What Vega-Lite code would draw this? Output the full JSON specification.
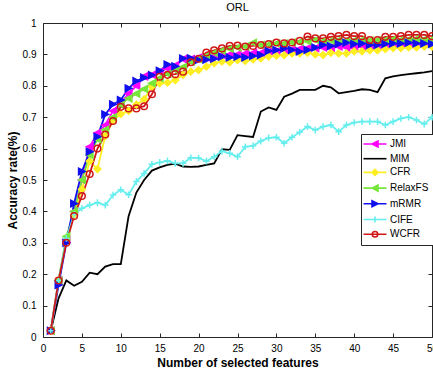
{
"$schema":"https://vega.github.io/schema/vega-lite/v6.json",
"width":389,"height":314,
"autosize":{"type":"none"},
"padding":{"left":43,"top":23,"right":1,"bottom":35},
"title":{"text":"ORL","fontSize":11,"fontWeight":"normal","font":"Liberation Sans","color":"#000","offset":5},
"config":{"view":{"stroke":"#262626","strokeWidth":1},"font":"Liberation Sans"},
"data":{"values":[
{"m":"JMI","x":1,"y":0.02},{"m":"JMI","x":2,"y":0.18},{"m":"JMI","x":3,"y":0.31},{"m":"JMI","x":4,"y":0.40},{"m":"JMI","x":5,"y":0.50},{"m":"JMI","x":6,"y":0.606},{"m":"JMI","x":7,"y":0.65},{"m":"JMI","x":8,"y":0.675},{"m":"JMI","x":9,"y":0.72},{"m":"JMI","x":10,"y":0.745},
{"m":"JMI","x":11,"y":0.775},{"m":"JMI","x":12,"y":0.80},{"m":"JMI","x":13,"y":0.83},{"m":"JMI","x":14,"y":0.835},{"m":"JMI","x":15,"y":0.845},{"m":"JMI","x":16,"y":0.855},{"m":"JMI","x":17,"y":0.865},{"m":"JMI","x":18,"y":0.885},{"m":"JMI","x":19,"y":0.885},{"m":"JMI","x":20,"y":0.89},
{"m":"JMI","x":21,"y":0.89},{"m":"JMI","x":22,"y":0.895},{"m":"JMI","x":23,"y":0.898},{"m":"JMI","x":24,"y":0.90},{"m":"JMI","x":25,"y":0.90},{"m":"JMI","x":26,"y":0.903},{"m":"JMI","x":27,"y":0.905},{"m":"JMI","x":28,"y":0.905},{"m":"JMI","x":29,"y":0.91},{"m":"JMI","x":30,"y":0.91},
{"m":"JMI","x":31,"y":0.915},{"m":"JMI","x":32,"y":0.915},{"m":"JMI","x":33,"y":0.918},{"m":"JMI","x":34,"y":0.92},{"m":"JMI","x":35,"y":0.92},{"m":"JMI","x":36,"y":0.922},{"m":"JMI","x":37,"y":0.92},{"m":"JMI","x":38,"y":0.925},{"m":"JMI","x":39,"y":0.922},{"m":"JMI","x":40,"y":0.92},
{"m":"JMI","x":41,"y":0.925},{"m":"JMI","x":42,"y":0.928},{"m":"JMI","x":43,"y":0.93},{"m":"JMI","x":44,"y":0.932},{"m":"JMI","x":45,"y":0.935},{"m":"JMI","x":46,"y":0.935},{"m":"JMI","x":47,"y":0.938},{"m":"JMI","x":48,"y":0.94},{"m":"JMI","x":49,"y":0.94},{"m":"JMI","x":50,"y":0.94},
{"m":"MIM","x":1,"y":0.02},{"m":"MIM","x":2,"y":0.123},{"m":"MIM","x":3,"y":0.18},{"m":"MIM","x":4,"y":0.163},{"m":"MIM","x":5,"y":0.176},{"m":"MIM","x":6,"y":0.205},{"m":"MIM","x":7,"y":0.20},{"m":"MIM","x":8,"y":0.224},{"m":"MIM","x":9,"y":0.232},{"m":"MIM","x":10,"y":0.232},
{"m":"MIM","x":11,"y":0.385},{"m":"MIM","x":12,"y":0.46},{"m":"MIM","x":13,"y":0.50},{"m":"MIM","x":14,"y":0.53},{"m":"MIM","x":15,"y":0.54},{"m":"MIM","x":16,"y":0.548},{"m":"MIM","x":17,"y":0.552},{"m":"MIM","x":18,"y":0.543},{"m":"MIM","x":19,"y":0.542},{"m":"MIM","x":20,"y":0.543},
{"m":"MIM","x":21,"y":0.548},{"m":"MIM","x":22,"y":0.553},{"m":"MIM","x":23,"y":0.598},{"m":"MIM","x":24,"y":0.596},{"m":"MIM","x":25,"y":0.643},{"m":"MIM","x":26,"y":0.64},{"m":"MIM","x":27,"y":0.637},{"m":"MIM","x":28,"y":0.718},{"m":"MIM","x":29,"y":0.731},{"m":"MIM","x":30,"y":0.723},
{"m":"MIM","x":31,"y":0.765},{"m":"MIM","x":32,"y":0.775},{"m":"MIM","x":33,"y":0.787},{"m":"MIM","x":34,"y":0.787},{"m":"MIM","x":35,"y":0.787},{"m":"MIM","x":36,"y":0.80},{"m":"MIM","x":37,"y":0.795},{"m":"MIM","x":38,"y":0.776},{"m":"MIM","x":39,"y":0.78},{"m":"MIM","x":40,"y":0.784},
{"m":"MIM","x":41,"y":0.789},{"m":"MIM","x":42,"y":0.787},{"m":"MIM","x":43,"y":0.78},{"m":"MIM","x":44,"y":0.824},{"m":"MIM","x":45,"y":0.83},{"m":"MIM","x":46,"y":0.834},{"m":"MIM","x":47,"y":0.837},{"m":"MIM","x":48,"y":0.84},{"m":"MIM","x":49,"y":0.843},{"m":"MIM","x":50,"y":0.847},
{"m":"CFR","x":1,"y":0.02},{"m":"CFR","x":2,"y":0.18},{"m":"CFR","x":3,"y":0.31},{"m":"CFR","x":4,"y":0.39},{"m":"CFR","x":5,"y":0.47},{"m":"CFR","x":6,"y":0.56},{"m":"CFR","x":7,"y":0.535},{"m":"CFR","x":8,"y":0.64},{"m":"CFR","x":9,"y":0.69},{"m":"CFR","x":10,"y":0.71},
{"m":"CFR","x":11,"y":0.72},{"m":"CFR","x":12,"y":0.74},{"m":"CFR","x":13,"y":0.757},{"m":"CFR","x":14,"y":0.797},{"m":"CFR","x":15,"y":0.808},{"m":"CFR","x":16,"y":0.81},{"m":"CFR","x":17,"y":0.818},{"m":"CFR","x":18,"y":0.835},{"m":"CFR","x":19,"y":0.845},{"m":"CFR","x":20,"y":0.85},
{"m":"CFR","x":21,"y":0.861},{"m":"CFR","x":22,"y":0.872},{"m":"CFR","x":23,"y":0.877},{"m":"CFR","x":24,"y":0.875},{"m":"CFR","x":25,"y":0.882},{"m":"CFR","x":26,"y":0.879},{"m":"CFR","x":27,"y":0.884},{"m":"CFR","x":28,"y":0.887},{"m":"CFR","x":29,"y":0.893},{"m":"CFR","x":30,"y":0.896},
{"m":"CFR","x":31,"y":0.898},{"m":"CFR","x":32,"y":0.903},{"m":"CFR","x":33,"y":0.903},{"m":"CFR","x":34,"y":0.905},{"m":"CFR","x":35,"y":0.90},{"m":"CFR","x":36,"y":0.898},{"m":"CFR","x":37,"y":0.905},{"m":"CFR","x":38,"y":0.903},{"m":"CFR","x":39,"y":0.903},{"m":"CFR","x":40,"y":0.91},
{"m":"CFR","x":41,"y":0.91},{"m":"CFR","x":42,"y":0.913},{"m":"CFR","x":43,"y":0.913},{"m":"CFR","x":44,"y":0.917},{"m":"CFR","x":45,"y":0.92},{"m":"CFR","x":46,"y":0.92},{"m":"CFR","x":47,"y":0.922},{"m":"CFR","x":48,"y":0.922},{"m":"CFR","x":49,"y":0.925},{"m":"CFR","x":50,"y":0.925},
{"m":"RelaxFS","x":1,"y":0.02},{"m":"RelaxFS","x":2,"y":0.18},{"m":"RelaxFS","x":3,"y":0.32},{"m":"RelaxFS","x":4,"y":0.40},{"m":"RelaxFS","x":5,"y":0.50},{"m":"RelaxFS","x":6,"y":0.58},{"m":"RelaxFS","x":7,"y":0.63},{"m":"RelaxFS","x":8,"y":0.66},{"m":"RelaxFS","x":9,"y":0.70},{"m":"RelaxFS","x":10,"y":0.74},
{"m":"RelaxFS","x":11,"y":0.76},{"m":"RelaxFS","x":12,"y":0.775},{"m":"RelaxFS","x":13,"y":0.79},{"m":"RelaxFS","x":14,"y":0.808},{"m":"RelaxFS","x":15,"y":0.824},{"m":"RelaxFS","x":16,"y":0.838},{"m":"RelaxFS","x":17,"y":0.85},{"m":"RelaxFS","x":18,"y":0.86},{"m":"RelaxFS","x":19,"y":0.877},{"m":"RelaxFS","x":20,"y":0.885},
{"m":"RelaxFS","x":21,"y":0.895},{"m":"RelaxFS","x":22,"y":0.905},{"m":"RelaxFS","x":23,"y":0.912},{"m":"RelaxFS","x":24,"y":0.918},{"m":"RelaxFS","x":25,"y":0.922},{"m":"RelaxFS","x":26,"y":0.925},{"m":"RelaxFS","x":27,"y":0.937},{"m":"RelaxFS","x":28,"y":0.93},{"m":"RelaxFS","x":29,"y":0.932},{"m":"RelaxFS","x":30,"y":0.935},
{"m":"RelaxFS","x":31,"y":0.935},{"m":"RelaxFS","x":32,"y":0.938},{"m":"RelaxFS","x":33,"y":0.94},{"m":"RelaxFS","x":34,"y":0.942},{"m":"RelaxFS","x":35,"y":0.946},{"m":"RelaxFS","x":36,"y":0.942},{"m":"RelaxFS","x":37,"y":0.944},{"m":"RelaxFS","x":38,"y":0.946},{"m":"RelaxFS","x":39,"y":0.944},{"m":"RelaxFS","x":40,"y":0.945},
{"m":"RelaxFS","x":41,"y":0.946},{"m":"RelaxFS","x":42,"y":0.944},{"m":"RelaxFS","x":43,"y":0.945},{"m":"RelaxFS","x":44,"y":0.946},{"m":"RelaxFS","x":45,"y":0.948},{"m":"RelaxFS","x":46,"y":0.946},{"m":"RelaxFS","x":47,"y":0.948},{"m":"RelaxFS","x":48,"y":0.95},{"m":"RelaxFS","x":49,"y":0.948},{"m":"RelaxFS","x":50,"y":0.948},
{"m":"mRMR","x":1,"y":0.02},{"m":"mRMR","x":2,"y":0.166},{"m":"mRMR","x":3,"y":0.30},{"m":"mRMR","x":4,"y":0.425},{"m":"mRMR","x":5,"y":0.527},{"m":"mRMR","x":6,"y":0.59},{"m":"mRMR","x":7,"y":0.638},{"m":"mRMR","x":8,"y":0.709},{"m":"mRMR","x":9,"y":0.741},{"m":"mRMR","x":10,"y":0.755},
{"m":"mRMR","x":11,"y":0.792},{"m":"mRMR","x":12,"y":0.815},{"m":"mRMR","x":13,"y":0.826},{"m":"mRMR","x":14,"y":0.834},{"m":"mRMR","x":15,"y":0.848},{"m":"mRMR","x":16,"y":0.868},{"m":"mRMR","x":17,"y":0.862},{"m":"mRMR","x":18,"y":0.887},{"m":"mRMR","x":19,"y":0.888},{"m":"mRMR","x":20,"y":0.882},
{"m":"mRMR","x":21,"y":0.883},{"m":"mRMR","x":22,"y":0.886},{"m":"mRMR","x":23,"y":0.893},{"m":"mRMR","x":24,"y":0.89},{"m":"mRMR","x":25,"y":0.893},{"m":"mRMR","x":26,"y":0.89},{"m":"mRMR","x":27,"y":0.895},{"m":"mRMR","x":28,"y":0.898},{"m":"mRMR","x":29,"y":0.911},{"m":"mRMR","x":30,"y":0.914},
{"m":"mRMR","x":31,"y":0.919},{"m":"mRMR","x":32,"y":0.914},{"m":"mRMR","x":33,"y":0.909},{"m":"mRMR","x":34,"y":0.914},{"m":"mRMR","x":35,"y":0.922},{"m":"mRMR","x":36,"y":0.93},{"m":"mRMR","x":37,"y":0.927},{"m":"mRMR","x":38,"y":0.933},{"m":"mRMR","x":39,"y":0.937},{"m":"mRMR","x":40,"y":0.933},
{"m":"mRMR","x":41,"y":0.935},{"m":"mRMR","x":42,"y":0.93},{"m":"mRMR","x":43,"y":0.93},{"m":"mRMR","x":44,"y":0.933},{"m":"mRMR","x":45,"y":0.935},{"m":"mRMR","x":46,"y":0.935},{"m":"mRMR","x":47,"y":0.937},{"m":"mRMR","x":48,"y":0.935},{"m":"mRMR","x":49,"y":0.935},{"m":"mRMR","x":50,"y":0.933},
{"m":"CIFE","x":1,"y":0.02},{"m":"CIFE","x":2,"y":0.18},{"m":"CIFE","x":3,"y":0.314},{"m":"CIFE","x":4,"y":0.39},{"m":"CIFE","x":5,"y":0.41},{"m":"CIFE","x":6,"y":0.42},{"m":"CIFE","x":7,"y":0.428},{"m":"CIFE","x":8,"y":0.42},{"m":"CIFE","x":9,"y":0.452},{"m":"CIFE","x":10,"y":0.469},
{"m":"CIFE","x":11,"y":0.453},{"m":"CIFE","x":12,"y":0.495},{"m":"CIFE","x":13,"y":0.521},{"m":"CIFE","x":14,"y":0.55},{"m":"CIFE","x":15,"y":0.556},{"m":"CIFE","x":16,"y":0.561},{"m":"CIFE","x":17,"y":0.553},{"m":"CIFE","x":18,"y":0.553},{"m":"CIFE","x":19,"y":0.571},{"m":"CIFE","x":20,"y":0.57},
{"m":"CIFE","x":21,"y":0.56},{"m":"CIFE","x":22,"y":0.574},{"m":"CIFE","x":23,"y":0.592},{"m":"CIFE","x":24,"y":0.585},{"m":"CIFE","x":25,"y":0.574},{"m":"CIFE","x":26,"y":0.606},{"m":"CIFE","x":27,"y":0.609},{"m":"CIFE","x":28,"y":0.624},{"m":"CIFE","x":29,"y":0.634},{"m":"CIFE","x":30,"y":0.636},
{"m":"CIFE","x":31,"y":0.617},{"m":"CIFE","x":32,"y":0.636},{"m":"CIFE","x":33,"y":0.652},{"m":"CIFE","x":34,"y":0.67},{"m":"CIFE","x":35,"y":0.659},{"m":"CIFE","x":36,"y":0.67},{"m":"CIFE","x":37,"y":0.675},{"m":"CIFE","x":38,"y":0.654},{"m":"CIFE","x":39,"y":0.675},{"m":"CIFE","x":40,"y":0.683},
{"m":"CIFE","x":41,"y":0.686},{"m":"CIFE","x":42,"y":0.686},{"m":"CIFE","x":43,"y":0.686},{"m":"CIFE","x":44,"y":0.675},{"m":"CIFE","x":45,"y":0.686},{"m":"CIFE","x":46,"y":0.696},{"m":"CIFE","x":47,"y":0.70},{"m":"CIFE","x":48,"y":0.691},{"m":"CIFE","x":49,"y":0.678},{"m":"CIFE","x":50,"y":0.70},
{"m":"WCFR","x":1,"y":0.02},{"m":"WCFR","x":2,"y":0.18},{"m":"WCFR","x":3,"y":0.30},{"m":"WCFR","x":4,"y":0.385},{"m":"WCFR","x":5,"y":0.449},{"m":"WCFR","x":6,"y":0.519},{"m":"WCFR","x":7,"y":0.60},{"m":"WCFR","x":8,"y":0.645},{"m":"WCFR","x":9,"y":0.688},{"m":"WCFR","x":10,"y":0.733},
{"m":"WCFR","x":11,"y":0.728},{"m":"WCFR","x":12,"y":0.728},{"m":"WCFR","x":13,"y":0.735},{"m":"WCFR","x":14,"y":0.773},{"m":"WCFR","x":15,"y":0.829},{"m":"WCFR","x":16,"y":0.835},{"m":"WCFR","x":17,"y":0.837},{"m":"WCFR","x":18,"y":0.845},{"m":"WCFR","x":19,"y":0.875},{"m":"WCFR","x":20,"y":0.886},
{"m":"WCFR","x":21,"y":0.906},{"m":"WCFR","x":22,"y":0.913},{"m":"WCFR","x":23,"y":0.919},{"m":"WCFR","x":24,"y":0.927},{"m":"WCFR","x":25,"y":0.928},{"m":"WCFR","x":26,"y":0.925},{"m":"WCFR","x":27,"y":0.927},{"m":"WCFR","x":28,"y":0.93},{"m":"WCFR","x":29,"y":0.933},{"m":"WCFR","x":30,"y":0.938},
{"m":"WCFR","x":31,"y":0.935},{"m":"WCFR","x":32,"y":0.938},{"m":"WCFR","x":33,"y":0.943},{"m":"WCFR","x":34,"y":0.957},{"m":"WCFR","x":35,"y":0.951},{"m":"WCFR","x":36,"y":0.951},{"m":"WCFR","x":37,"y":0.956},{"m":"WCFR","x":38,"y":0.958},{"m":"WCFR","x":39,"y":0.962},{"m":"WCFR","x":40,"y":0.958},
{"m":"WCFR","x":41,"y":0.958},{"m":"WCFR","x":42,"y":0.946},{"m":"WCFR","x":43,"y":0.946},{"m":"WCFR","x":44,"y":0.956},{"m":"WCFR","x":45,"y":0.956},{"m":"WCFR","x":46,"y":0.958},{"m":"WCFR","x":47,"y":0.962},{"m":"WCFR","x":48,"y":0.962},{"m":"WCFR","x":49,"y":0.962},{"m":"WCFR","x":50,"y":0.958}
]},
"layer":[
{"mark":{"type":"line","strokeWidth":1.8},
 "encoding":{
  "x":{"field":"x","type":"quantitative","scale":{"domain":[0,50],"nice":false,"zero":false},
   "axis":{"values":[0,5,10,15,20,25,30,35,40,45,50],"format":"d","title":"Number of selected features","titleFont":"Liberation Sans","titleFontSize":12,"titleFontWeight":"bold","titleColor":"#000","titlePadding":4,"labelFont":"Liberation Sans","labelFontSize":10,"labelColor":"#000","labelFlush":false,"labelOverlap":false,"labelPadding":10,"tickSize":-4,"tickColor":"#262626","domain":false,"grid":false}},
  "y":{"field":"y","type":"quantitative","scale":{"domain":[0,1],"nice":false},
   "axis":{"values":[0,0.1,0.2,0.3,0.4,0.5,0.6,0.7,0.8,0.9,1],"format":"~g","title":"Accuracy rate(%)","titleFont":"Liberation Sans","titleFontSize":12,"titleFontWeight":"bold","titleColor":"#000","titlePadding":3,"labelFont":"Liberation Sans","labelFontSize":10,"labelColor":"#000","labelPadding":11,"tickSize":-4,"tickColor":"#262626","domain":false,"grid":false}},
  "color":{"field":"m","type":"nominal",
   "scale":{"domain":["JMI","MIM","CFR","RelaxFS","mRMR","CIFE","WCFR"],"range":["#ff00ff","#000000","#ffee22","#77e63a","#1010ee","#66eeee","#d01818"]},
   "legend":{"title":null,"orient":"none","legendX":318,"legendY":111,"padding":4,"strokeColor":"#262626","fillColor":"white",
    "labelFont":"Liberation Sans","labelFontSize":10,"labelColor":"#000","symbolSize":100,"symbolOffset":4,"labelOffset":9,"rowPadding":1.7,
    "encode":{"symbols":{"update":{
     "shape":{"signal":"(datum.value === 'JMI' || datum.value === 'RelaxFS') ? 'M-2.3,0L2.3,0M-0.6,0L0.6,-0.6L0.6,0.6Z' : datum.value === 'CFR' ? 'M-2.3,0L2.3,0M0,-0.6L0.6,0L0,0.6L-0.6,0Z' : datum.value === 'mRMR' ? 'M-2.3,0L2.3,0M0.6,0L-0.6,-0.6L-0.6,0.6Z' : datum.value === 'CIFE' ? 'M-2.3,0L2.3,0M0,-0.6L0,0.6' : datum.value === 'WCFR' ? 'M-2.3,0L2.3,0M0.55,0A0.55,0.55,0,1,1,-0.55,0A0.55,0.55,0,1,1,0.55,0' : 'M-2.3,0L2.3,0'"},
     "fill":{"signal":"datum.value === 'JMI' ? '#ff00ff' : datum.value === 'CFR' ? '#ffee22' : datum.value === 'RelaxFS' ? '#77e63a' : datum.value === 'mRMR' ? '#1010ee' : 'transparent'"},
     "strokeWidth":{"value":1.6}}}}}}
 }},
{"transform":[{"filter":"datum.m !== 'MIM'"}],
 "mark":{"type":"point","size":44,"strokeWidth":1.5,"opacity":1},
 "encoding":{
  "x":{"field":"x","type":"quantitative","axis":{"orient":"top","values":[0,5,10,15,20,25,30,35,40,45,50],"labels":false,"title":null,"tickSize":-4,"tickColor":"#262626","domain":false,"grid":false}},
  "y":{"field":"y","type":"quantitative","axis":{"orient":"right","values":[0,0.1,0.2,0.3,0.4,0.5,0.6,0.7,0.8,0.9,1],"labels":false,"title":null,"tickSize":-4,"tickColor":"#262626","domain":false,"grid":false}},
  "color":{"field":"m","type":"nominal","legend":null},
  "shape":{"field":"m","type":"nominal","legend":null,"scale":{"domain":["JMI","CFR","RelaxFS","mRMR","CIFE","WCFR"],"range":["M-1,0L1,-1L1,1Z","M0,-1L1,0L0,1L-1,0Z","M-1,0L1,-1L1,1Z","M1,0L-1,-1L-1,1Z","M-1,0L1,0M0,-1L0,1","circle"]}},
  "fill":{"field":"m","type":"nominal","legend":null,"scale":{"domain":["JMI","CFR","RelaxFS","mRMR","CIFE","WCFR"],"range":["#ff00ff","#ffee22","#77e63a","#1010ee","transparent","transparent"]}}
 }}
],
"resolve":{"axis":{"x":"independent","y":"independent"}}
}
